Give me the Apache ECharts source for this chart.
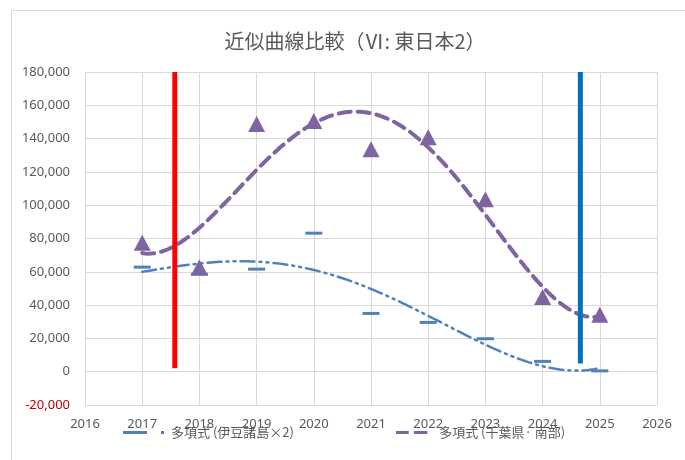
<!DOCTYPE html>
<html>
<head>
<meta charset="utf-8">
<script src="https://cdn.jsdelivr.net/npm/echarts@6/dist/echarts.min.js"></script>
<style>
html, body { margin: 0; padding: 0; background: #ffffff; }
#chart { width: 685px; height: 460px; }
</style>
</head>
<body>
<div id="chart"></div>
<script>
// Observed values per year
const years = [2017, 2018, 2019, 2020, 2021, 2022, 2023, 2024, 2025];
const izuValues = [62800, 58500, 61600, 83200, 35000, 29600, 19800, 6200, 500];
const chibaValues = [77400, 62700, 148800, 150600, 133600, 140800, 103600, 44800, 34200];

// Legend / trendline names
const izuName = '多項式 (伊豆諸島×2)';
const chibaName = '多項式 (千葉県· 南部)';

// Vertical marker lines: x position and [bottom, top] values
const redMarkX = 2017.57;
const redMarkRange = [2000, 180000];
const blueMarkX = 2024.66;
const blueMarkRange = [5000, 180000];

// Polynomial trendline orders
const izuOrder = 4;
const chibaOrder = 4;

// Least-squares polynomial fit (normal equations, Gaussian elimination)
function polyFit(xs, ys, order) {
  const n = order + 1;
  const A = [];
  for (let i = 0; i < n; i++) {
    A.push(new Array(n + 1).fill(0));
  }
  for (let k = 0; k < xs.length; k++) {
    const t = xs[k] - 2016;
    for (let i = 0; i < n; i++) {
      for (let j = 0; j < n; j++) A[i][j] += Math.pow(t, i + j);
      A[i][n] += ys[k] * Math.pow(t, i);
    }
  }
  for (let c = 0; c < n; c++) {
    let p = c;
    for (let r = c + 1; r < n; r++) if (Math.abs(A[r][c]) > Math.abs(A[p][c])) p = r;
    const tmp = A[c]; A[c] = A[p]; A[p] = tmp;
    for (let r = 0; r < n; r++) {
      if (r === c) continue;
      const f = A[r][c] / A[c][c];
      for (let k = c; k <= n; k++) A[r][k] -= f * A[c][k];
    }
  }
  const coef = [];
  for (let i = 0; i < n; i++) coef.push(A[i][n] / A[i][i]);
  return coef;
}

function trendPoints(xs, ys, order) {
  const coef = polyFit(xs, ys, order);
  const pts = [];
  const x0 = xs[0], x1 = xs[xs.length - 1];
  const steps = 160;
  for (let s = 0; s <= steps; s++) {
    const x = x0 + (x1 - x0) * s / steps;
    const t = x - 2016;
    let y = 0;
    for (let i = 0; i < coef.length; i++) y += coef[i] * Math.pow(t, i);
    pts.push([x, y]);
  }
  return pts;
}

const izuColor = '#4F81BD';
const chibaColor = '#8064A2';
const textColor = '#595959';
const gridColor = '#d9d9d9';

// Legend glyphs: long dash + dot, and two dashes
const izuIcon = 'path://M0,0H24V3H0ZM38,0H41V3H38Z';
const chibaIcon = 'path://M0,0H17V4H0ZM24,0H42V4H24Z';

const chart = echarts.init(document.getElementById('chart'), null, { renderer: 'canvas' });

chart.setOption({
  animation: false,
  backgroundColor: '#ffffff',
  title: {
    text: '近似曲線比較（Ⅵ: 東日本2）',
    left: 350,
    textAlign: 'center',
    top: 26,
    textStyle: {
      fontFamily: 'Noto Sans CJK JP',
      fontSize: 20,
      fontWeight: 'normal',
      color: textColor
    }
  },
  graphic: [{
    type: 'rect',
    shape: { x: 11.5, y: 10.5, width: 700, height: 500 },
    style: { fill: 'none', stroke: gridColor, lineWidth: 1 },
    z: -10,
    silent: true
  }],
  legend: {
    data: [
      { name: izuName, icon: izuIcon, itemStyle: { color: izuColor } },
      { name: chibaName, icon: chibaIcon, itemStyle: { color: chibaColor } }
    ],
    left: 118,
    top: 421,
    itemWidth: 41,
    itemHeight: 3,
    itemGap: 102,
    textStyle: {
      fontFamily: 'Noto Sans CJK JP',
      fontSize: 13,
      color: textColor,
      padding: [0, 0, 0, 2]
    }
  },
  grid: { left: 85, right: 28, top: 72, bottom: 55 },
  xAxis: {
    type: 'value',
    min: 2016,
    max: 2026,
    interval: 1,
    axisLine: { show: false, onZero: true },
    axisTick: { show: false },
    axisLabel: {
      margin: 13,
      fontFamily: 'Noto Sans',
      fontSize: 13,
      color: textColor,
      formatter: function (v) { return String(v); }
    },
    splitLine: { show: true, lineStyle: { color: gridColor, width: 1 } }
  },
  yAxis: {
    type: 'value',
    min: -20000,
    max: 180000,
    interval: 20000,
    axisLine: { show: false },
    axisTick: { show: false },
    axisLabel: {
      margin: 15,
      fontFamily: 'Noto Sans',
      fontSize: 13,
      color: function (v) { return Number(v) < 0 ? '#C00000' : textColor; },
      formatter: function (v) { return v.toLocaleString('en-US'); }
    },
    splitLine: { show: true, lineStyle: { color: gridColor, width: 1 } }
  },
  series: [
    {
      name: izuName,
      type: 'line',
      data: trendPoints(years, izuValues, izuOrder),
      symbol: 'none',
      smooth: false,
      lineStyle: { color: izuColor, width: 2.5, type: [14, 5, 2, 5, 2, 5], cap: 'round' },
      itemStyle: { color: izuColor },
      z: 2
    },
    {
      name: chibaName,
      type: 'line',
      data: trendPoints(years, chibaValues, chibaOrder),
      symbol: 'none',
      smooth: false,
      lineStyle: { color: chibaColor, width: 4, type: [12, 7], cap: 'round' },
      itemStyle: { color: chibaColor },
      z: 2
    },
    {
      name: '伊豆諸島×2',
      type: 'scatter',
      data: years.map(function (y, i) { return [y, izuValues[i]]; }),
      symbol: 'rect',
      symbolSize: [17, 3],
      itemStyle: { color: izuColor, opacity: 1 },
      z: 3
    },
    {
      name: '千葉県· 南部',
      type: 'scatter',
      data: years.map(function (y, i) { return [y, chibaValues[i]]; }),
      symbol: 'triangle',
      symbolSize: [17, 16],
      itemStyle: { color: chibaColor, opacity: 1 },
      z: 4
    },
    {
      name: 'red-mark',
      type: 'line',
      data: [[redMarkX, redMarkRange[0]], [redMarkX, redMarkRange[1]]],
      symbol: 'none',
      lineStyle: { color: '#FF0000', width: 5, cap: 'butt' },
      z: 5
    },
    {
      name: 'blue-mark',
      type: 'line',
      data: [[blueMarkX, blueMarkRange[0]], [blueMarkX, blueMarkRange[1]]],
      symbol: 'none',
      lineStyle: { color: '#0070C0', width: 5, cap: 'butt' },
      z: 5
    }
  ]
});
</script>
</body>
</html>
